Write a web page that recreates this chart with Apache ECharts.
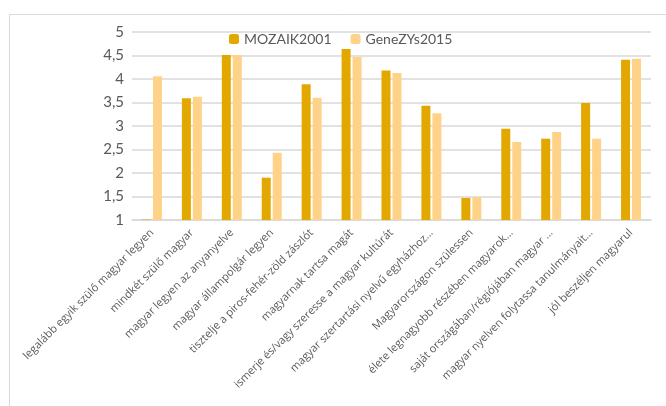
<!DOCTYPE html>
<html>
<head>
<meta charset="utf-8">
<script src="https://cdn.jsdelivr.net/npm/echarts@6/dist/echarts.min.js"></script>
<style>
  html, body { margin: 0; padding: 0; background: #fff; }
  #main { width: 666px; height: 406px; }
</style>
</head>
<body>
<div id="main"></div>
<script>
const categories = [
  'legalább egyik szülő magyar legyen',
  'mindkét szülő magyar',
  'magyar legyen az anyanyelve',
  'magyar állampolgár legyen',
  'tisztelje a piros-fehér-zöld zászlót',
  'magyarnak tartsa magát',
  'ismerje és/vagy szeresse a magyar kultúrát',
  'magyar szertartási nyelvű egyházhoz…',
  'Magyarországon szülessen',
  'élete legnagyobb részében magyarok…',
  'saját országában/régiójában magyar …',
  'magyar nyelven folytassa tanulmányait…',
  'jól beszéljen magyarul'
];
const mozaik2001 = [1.01, 3.59, 4.51, 1.90, 3.89, 4.64, 4.18, 3.43, 1.47, 2.94, 2.73, 3.49, 4.41];
const genezys2015 = [4.06, 3.62, 4.51, 2.43, 3.60, 4.47, 4.13, 3.27, 1.49, 2.66, 2.87, 2.73, 4.43];

const chart = echarts.init(document.getElementById('main'));
const labelColor = '#595959';

chart.setOption({
  animation: false,
  backgroundColor: '#fff',
  graphic: [{
    type: 'rect',
    left: 7, top: 12,
    shape: { width: 700, height: 420 },
    style: { fill: 'none', stroke: '#d9d9d9', lineWidth: 1 },
    silent: true
  }],
  legend: {
    left: 224, top: 27,
    itemWidth: 10, itemHeight: 10, itemGap: 19,
    textStyle: { fontFamily: 'Lato', fontSize: 14, color: labelColor },
    data: ['MOZAIK2001', 'GeneZYs2015']
  },
  grid: { left: 132, right: 15, top: 32, bottom: 186 },
  xAxis: {
    type: 'category',
    data: categories,
    axisLine: { lineStyle: { color: '#d9d9d9', width: 1.5 } },
    axisTick: { show: false },
    axisLabel: {
      interval: 0, rotate: 45, margin: 11,
      fontFamily: 'Open Sans', fontSize: 11, color: labelColor
    }
  },
  yAxis: {
    type: 'value',
    min: 1, max: 5, interval: 0.5,
    axisLine: { show: false },
    axisTick: { show: false },
    splitLine: { lineStyle: { color: '#d9d9d9', width: 1.5 } },
    axisLabel: {
      margin: 8, fontFamily: 'Lato', fontSize: 15, color: labelColor,
      formatter: v => String(v).replace('.', ',')
    }
  },
  series: [
    { name: 'MOZAIK2001', type: 'bar', data: mozaik2001, barWidth: 9, barGap: '22%',
      itemStyle: { color: '#e3a800' } },
    { name: 'GeneZYs2015', type: 'bar', data: genezys2015, barWidth: 9,
      itemStyle: { color: '#ffd28a' } }
  ]
});
</script>
</body>
</html>
